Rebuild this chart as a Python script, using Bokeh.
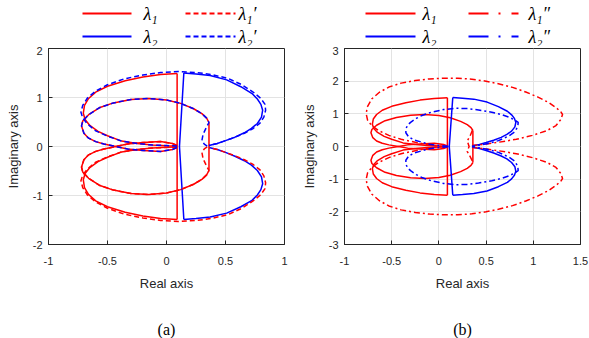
from bokeh.plotting import figure
from bokeh.layouts import column, row
from bokeh.models import Range1d, FixedTicker
from bokeh.core.properties import value
from bokeh.embed import file_html
from bokeh.resources import INLINE

# ---------------- data ----------------
# lambda_1 (red, solid) -- same loci in both panels
L1_V_X = [0.09, 0.09]
L1_V_Y = [1.49, -1.49]
L1_RV_X = [0.36, 0.36]
L1_RV_Y = [0.49, -0.49]
L1_OUT_X = [0.09, -0.05, -0.20, -0.35, -0.50, -0.60, -0.66, -0.695, -0.705, -0.69, -0.65, -0.58, -0.50, -0.38, -0.25, -0.12, 0.0, 0.09]
L1_OUT_UP_Y = [1.49, 1.47, 1.42, 1.34, 1.23, 1.11, 0.98, 0.84, 0.68, 0.55, 0.43, 0.31, 0.22, 0.11, 0.06, 0.03, 0.015, 0.01]
L1_OUT_LO_Y = [-1.49, -1.47, -1.42, -1.34, -1.23, -1.11, -0.98, -0.84, -0.68, -0.55, -0.43, -0.31, -0.22, -0.11, -0.06, -0.03, -0.015, -0.01]
L1_IN_X = [0.36, 0.34, 0.30, 0.23, 0.12, 0.00, -0.15, -0.30, -0.45, -0.57, -0.66, -0.71, -0.72, -0.70, -0.66, -0.60, -0.53, -0.43, -0.33, -0.20, -0.05, 0.05, 0.09]
L1_IN_UP_Y = [0.49, 0.58, 0.67, 0.77, 0.88, 0.95, 0.98, 0.96, 0.89, 0.79, 0.65, 0.52, 0.42, 0.27, 0.17, 0.10, 0.05, 0.00, -0.05, -0.08, -0.10, -0.06, -0.02]
L1_IN_LO_Y = [-0.49, -0.58, -0.67, -0.77, -0.88, -0.95, -0.98, -0.96, -0.89, -0.79, -0.65, -0.52, -0.42, -0.27, -0.17, -0.10, -0.05, 0.00, 0.05, 0.08, 0.10, 0.06, 0.02]

# lambda_2 (blue, solid)
L2_V_X = [0.147, 0.11, 0.147]
L2_V_Y = [1.50, 0.0, -1.49]
L2_OUT_X = [0.147, 0.25, 0.37, 0.51, 0.63, 0.725, 0.77, 0.80, 0.815, 0.805, 0.77, 0.72, 0.66, 0.58, 0.50, 0.43, 0.36]
L2_OUT_UP_Y = [1.50, 1.48, 1.45, 1.36, 1.22, 1.08, 0.97, 0.86, 0.74, 0.60, 0.47, 0.37, 0.28, 0.19, 0.12, 0.06, 0.02]
L2_OUT_LO_Y = [-1.49, -1.47, -1.44, -1.36, -1.23, -1.10, -0.99, -0.88, -0.76, -0.62, -0.49, -0.38, -0.29, -0.20, -0.12, -0.06, -0.02]

# panel (a): lambda_1' (red dashed) and lambda_2' (blue dashed)
LP_OUT_X = [0.09, 0.0, -0.12, -0.25, -0.38, -0.50, -0.60, -0.67, -0.71, -0.725, -0.71, -0.67, -0.60, -0.50, -0.36, -0.20, -0.05, 0.10, 0.25, 0.38, 0.52, 0.64, 0.74, 0.80, 0.835, 0.84, 0.825, 0.79, 0.73, 0.66, 0.58, 0.50, 0.43, 0.36]
L2P_OUT_Y = [0.01, 0.02, 0.03, 0.06, 0.11, 0.21, 0.32, 0.46, 0.58, 0.70, 0.84, 0.99, 1.13, 1.26, 1.38, 1.46, 1.51, 1.53, 1.51, 1.47, 1.39, 1.26, 1.10, 0.98, 0.86, 0.74, 0.60, 0.47, 0.36, 0.27, 0.19, 0.12, 0.06, 0.02]
L1P_OUT_Y = [-0.01, -0.02, -0.03, -0.06, -0.11, -0.21, -0.32, -0.46, -0.58, -0.70, -0.84, -0.99, -1.13, -1.26, -1.38, -1.46, -1.51, -1.53, -1.51, -1.47, -1.39, -1.26, -1.10, -0.98, -0.86, -0.74, -0.60, -0.47, -0.36, -0.27, -0.19, -0.12, -0.06, -0.02]
LP_IN_X = [0.345, 0.32, 0.30, 0.31, 0.34, 0.36, 0.34, 0.30, 0.23, 0.12, 0.00, -0.15, -0.30, -0.45, -0.57, -0.66, -0.71, -0.72, -0.70, -0.66, -0.60, -0.53, -0.43, -0.33, -0.20, -0.05, 0.05, 0.09]
L2P_IN_Y = [0.01, 0.05, 0.12, 0.25, 0.40, 0.49, 0.58, 0.67, 0.77, 0.88, 0.95, 0.98, 0.96, 0.89, 0.79, 0.65, 0.52, 0.42, 0.27, 0.17, 0.10, 0.05, 0.00, -0.05, -0.08, -0.10, -0.06, -0.02]
L1P_IN_Y = [-0.01, -0.05, -0.12, -0.25, -0.40, -0.49, -0.58, -0.67, -0.77, -0.88, -0.95, -0.98, -0.96, -0.89, -0.79, -0.65, -0.52, -0.42, -0.27, -0.17, -0.10, -0.05, 0.00, 0.05, 0.08, 0.10, 0.06, 0.02]

# panel (b): lambda_1'' (red dash-dot) and lambda_2'' (blue dash-dot)
L1PP_X = [0.07, -0.10, -0.25, -0.40, -0.53, -0.64, -0.71, -0.755, -0.77, -0.76, -0.71, -0.63, -0.53, -0.40, -0.25, -0.10, 0.05, 0.20, 0.35, 0.50, 0.63, 0.78, 0.92, 1.05, 1.16, 1.24, 1.29, 1.31, 1.29, 1.24, 1.14, 0.99, 0.82, 0.63, 0.47, 0.35]
L1PP_UP_Y = [0.0, 0.05, 0.13, 0.22, 0.34, 0.49, 0.64, 0.80, 1.0, 1.20, 1.46, 1.66, 1.82, 1.94, 2.02, 2.07, 2.09, 2.09, 2.06, 2.0, 1.92, 1.81, 1.67, 1.51, 1.35, 1.19, 1.07, 0.98, 0.82, 0.64, 0.48, 0.34, 0.22, 0.13, 0.06, 0.03]
L1PP_LO_Y = [0.0, -0.05, -0.13, -0.22, -0.34, -0.49, -0.64, -0.80, -1.0, -1.20, -1.46, -1.66, -1.82, -1.94, -2.02, -2.07, -2.09, -2.09, -2.06, -2.0, -1.92, -1.81, -1.67, -1.51, -1.35, -1.19, -1.07, -0.98, -0.82, -0.64, -0.48, -0.34, -0.22, -0.13, -0.06, -0.03]
L1PP_W_X = [0.355, 0.33, 0.30, 0.32, 0.30, 0.33, 0.355]
L1PP_W_Y = [0.50, 0.32, 0.17, 0.0, -0.15, -0.30, -0.45]
L2PP_X = [0.10, 0.0, -0.10, -0.18, -0.26, -0.32, -0.35, -0.35, -0.33, -0.30, -0.24, -0.18, -0.08, 0.05, 0.18, 0.30, 0.42, 0.56, 0.66, 0.74, 0.80, 0.84, 0.835, 0.80, 0.74, 0.63, 0.52, 0.42, 0.35]
L2PP_UP_Y = [0.01, 0.03, 0.07, 0.13, 0.20, 0.29, 0.42, 0.54, 0.66, 0.74, 0.86, 0.95, 1.05, 1.13, 1.17, 1.16, 1.12, 1.05, 0.98, 0.90, 0.82, 0.74, 0.60, 0.44, 0.32, 0.18, 0.09, 0.04, 0.01]
L2PP_LO_Y = [-0.01, -0.03, -0.07, -0.13, -0.20, -0.29, -0.42, -0.54, -0.66, -0.74, -0.86, -0.95, -1.05, -1.13, -1.17, -1.16, -1.12, -1.05, -0.98, -0.90, -0.82, -0.74, -0.60, -0.44, -0.32, -0.18, -0.09, -0.04, -0.01]

# axes
XA_TICKS = [-1, -0.5, 0, 0.5, 1]
XA_LABELS = ["-1", "-0.5", "0", "0.5", "1"]
YA_TICKS = [-2, -1, 0, 1, 2]
YA_LABELS = ["-2", "-1", "0", "1", "2"]
XB_TICKS = [-1, -0.5, 0, 0.5, 1, 1.5]
XB_LABELS = ["-1", "-0.5", "0", "0.5", "1", "1.5"]
YB_TICKS = [-3, -2, -1, 0, 1, 2, 3]
YB_LABELS = ["-3", "-2", "-1", "0", "1", "2", "3"]

RED = "#ff0000"
BLUE = "#0000ff"
AX = "#262626"
LW = 1.5
DASH = "5 3"
DASHDOT = "6 3 2 3"
LEG_DASHDOT = "20 10 2 11"

WA, WB = 296, 293          # widths of the two columns
H_LEG, H_PLOT, H_CAP = 46, 250, 42


def make_panel(width, border_right, xr, yr, xt, xl, yt, yl):
    p = figure(width=width, height=H_PLOT, x_range=Range1d(*xr), y_range=Range1d(*yr),
               output_backend="svg", toolbar_location=None,
               min_border_left=48, min_border_right=border_right,
               min_border_top=2, min_border_bottom=52)
    p.outline_line_color = AX
    xa = p.below[0]
    ya = p.left[0]
    for ax, ticks, labels in ((xa, xt, xl), (ya, yt, yl)):
        ax.ticker = FixedTicker(ticks=ticks)
        ax.major_label_overrides = dict(zip(ticks, labels))
        ax.major_tick_in = 4
        ax.major_tick_out = 0
        ax.minor_tick_line_color = None
        ax.axis_line_color = AX
        ax.major_tick_line_color = AX
        ax.major_label_text_font = "Liberation Sans"
        ax.major_label_text_font_size = "11px"
        ax.major_label_text_color = AX
        ax.axis_label_text_font = "Liberation Sans"
        ax.axis_label_text_font_size = "13px"
        ax.axis_label_text_font_style = "normal"
        ax.axis_label_text_color = AX
    xa.axis_label = "Real axis"
    ya.axis_label = "Imaginary axis"
    xa.major_label_standoff = 12
    xa.axis_label_standoff = 8
    ya.major_label_standoff = 6
    ya.axis_label_standoff = 9
    p.xgrid.grid_line_color = "#e3e3e3"
    p.ygrid.grid_line_color = "#e3e3e3"
    return p


def blank_fig(width, height, x0, y0):
    f = figure(width=width, height=height, x_range=Range1d(x0, x0 + width),
               y_range=Range1d(y0 + height, y0), output_backend="svg",
               toolbar_location=None, min_border=0,
               x_axis_location=None, y_axis_location=None)
    f.grid.visible = False
    f.outline_line_color = None
    return f


def legend_fig(width, x0, items):
    f = blank_fig(width, H_LEG, x0, 0)
    for (lx0, lx1, ly, color, dash, tx, label) in items:
        f.line([lx0, lx1], [ly, ly], line_color=color, line_width=2.2, line_dash=dash)
        f.text(x=[tx], y=[ly], text=[label], text_font=value("Liberation Serif"),
               text_font_style="italic", text_font_size="18px", text_baseline="middle",
               text_align="left", text_color="black")
    return f


def caption_fig(width, x0, cx, label):
    f = blank_fig(width, H_CAP, x0, H_LEG + H_PLOT)
    f.text(x=[cx], y=[329], text=[label], text_font=value("Liberation Serif"),
           text_font_size="16px", text_baseline="middle", text_align="center",
           text_color="black")
    return f


# ---------------- panel (a) ----------------
pa = make_panel(WA, 12, (-1, 1), (-2, 2), XA_TICKS, XA_LABELS, YA_TICKS, YA_LABELS)
pa.multi_line([L1_V_X, L1_RV_X, L1_OUT_X, L1_OUT_X, L1_IN_X, L1_IN_X],
              [L1_V_Y, L1_RV_Y, L1_OUT_UP_Y, L1_OUT_LO_Y, L1_IN_UP_Y, L1_IN_LO_Y],
              line_color=RED, line_width=LW)
pa.multi_line([L2_V_X, L2_OUT_X, L2_OUT_X], [L2_V_Y, L2_OUT_UP_Y, L2_OUT_LO_Y],
              line_color=BLUE, line_width=LW)
pa.multi_line([LP_OUT_X, LP_IN_X], [L1P_OUT_Y, L1P_IN_Y],
              line_color=RED, line_width=LW, line_dash=DASH)
pa.multi_line([LP_OUT_X, LP_IN_X], [L2P_OUT_Y, L2P_IN_Y],
              line_color=BLUE, line_width=LW, line_dash=DASH)

# ---------------- panel (b) ----------------
pb = make_panel(WB, 9, (-1, 1.5), (-3, 3), XB_TICKS, XB_LABELS, YB_TICKS, YB_LABELS)
pb.multi_line([L1_V_X, L1_RV_X, L1_OUT_X, L1_OUT_X, L1_IN_X, L1_IN_X],
              [L1_V_Y, L1_RV_Y, L1_OUT_UP_Y, L1_OUT_LO_Y, L1_IN_UP_Y, L1_IN_LO_Y],
              line_color=RED, line_width=LW)
pb.multi_line([L2_V_X, L2_OUT_X, L2_OUT_X], [L2_V_Y, L2_OUT_UP_Y, L2_OUT_LO_Y],
              line_color=BLUE, line_width=LW)
pb.multi_line([L1PP_X, L1PP_X, L1PP_W_X], [L1PP_UP_Y, L1PP_LO_Y, L1PP_W_Y],
              line_color=RED, line_width=LW, line_dash=DASHDOT)
pb.multi_line([L2PP_X, L2PP_X], [L2PP_UP_Y, L2PP_LO_Y],
              line_color=BLUE, line_width=LW, line_dash=DASHDOT)

# ---------------- legends ----------------
la = legend_fig(WA, 0, [
    (82, 131, 13, RED, "solid", 143, "λ₁"),
    (185, 235, 13, RED, DASH, 238, "λ₁′"),
    (82, 131, 36, BLUE, "solid", 143, "λ₂"),
    (185, 235, 36, BLUE, DASH, 238, "λ₂′"),
])
lb = legend_fig(WB, WA, [
    (365, 415, 13, RED, "solid", 422, "λ₁"),
    (468, 518, 13, RED, LEG_DASHDOT, 528, "λ₁″"),
    (365, 415, 36, BLUE, "solid", 422, "λ₂"),
    (468, 518, 36, BLUE, LEG_DASHDOT, 528, "λ₂″"),
])

ca = caption_fig(WA, 0, 166, "(a)")
cb = caption_fig(WB, WA, 462, "(b)")

layout = column(row(la, lb), row(pa, pb), row(ca, cb))
open("out.html", "w").write(file_html(layout, INLINE))
